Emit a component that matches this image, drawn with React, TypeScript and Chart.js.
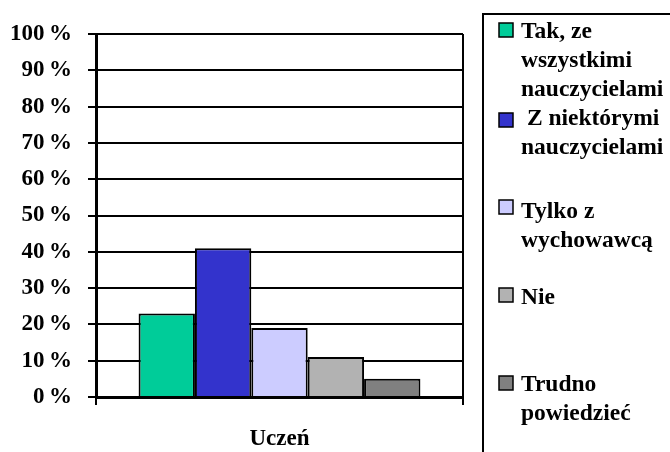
import React, { useEffect, useRef } from "react";
import { Chart, registerables } from "chart.js";

Chart.register(...registerables);

const categories = ["Uczeń"];
const seriesLabels = [
  "Tak, ze wszystkimi nauczycielami",
  "Z niektórymi nauczycielami",
  "Tylko z wychowawcą",
  "Nie",
  "Trudno powiedzieć",
];
const legendLines = [
  ["Tak, ze", "wszystkimi", "nauczycielami"],
  [" Z niektórymi", "nauczycielami"],
  ["Tylko z", "wychowawcą"],
  ["Nie"],
  ["Trudno", "powiedzieć"],
];
const values = [23, 41, 19, 11, 5];
const colors = ["#00CC99", "#3333CC", "#CCCCFF", "#B2B2B2", "#808080"];
const yMin = 0;
const yMax = 100;
const yStep = 10;

const FONT = "'Liberation Serif', 'Times New Roman', serif";

const legendPlugin = {
  id: "sideLegend",
  afterDraw(chart: any) {
    const ctx = chart.ctx;
    ctx.save();
    ctx.strokeStyle = "#000";
    ctx.lineWidth = 2;
    ctx.strokeRect(483, 14, 400, 600);
    const firstLineY = [32, 119, 212, 298, 385];
    const squareY = [30, 120, 207, 295, 383];
    const lineGap = 29;
    ctx.font = `bold 23.5px ${FONT}`;
    ctx.textBaseline = "middle";
    ctx.textAlign = "left";
    legendLines.forEach((lines, i) => {
      const sy = squareY[i];
      ctx.fillStyle = colors[i];
      ctx.fillRect(499, sy - 7, 14, 14);
      ctx.lineWidth = 1.5;
      ctx.strokeStyle = "#000";
      ctx.strokeRect(499, sy - 7, 14, 14);
      ctx.fillStyle = "#000";
      lines.forEach((t, j) => {
        ctx.fillText(t, 521, firstLineY[i] + j * lineGap);
      });
    });
    ctx.restore();
  },
};

export default function App() {
  const ref = useRef<HTMLCanvasElement>(null);
  useEffect(() => {
    if (!ref.current) return;
    const chart = new Chart(ref.current, {
      type: "bar",
      data: {
        labels: categories,
        datasets: seriesLabels.map((label, i) => ({
          label,
          data: [values[i]],
          backgroundColor: colors[i],
          borderColor: "#000",
          borderWidth: 2,
          barPercentage: 1,
          categoryPercentage: 0.768,
        })),
      },
      options: {
        responsive: false,
        animation: false,
        layout: { padding: { top: 34, right: 207, bottom: 0, left: 0 } },
        plugins: {
          legend: { display: false },
          tooltip: { enabled: false },
        },
        scales: {
          x: {
            grid: {
              offset: true,
              color: "#000",
              lineWidth: 2,
              tickLength: 8,
              drawOnChartArea: true,
            },
            border: { color: "#000", width: 3 },
            ticks: {
              color: "#000",
              font: { family: FONT, size: 23, weight: "bold" },
              padding: 20,
            },
            afterFit: (s: any) => {
              s.height = 55;
            },
          },
          y: {
            min: yMin,
            max: yMax,
            ticks: {
              stepSize: yStep,
              color: "#000",
              font: { family: FONT, size: 23, weight: "bold" },
              padding: 16,
              callback: (v: any) => `${v}\u2009%`,
            },
            grid: { color: "#000", lineWidth: 2, tickLength: 8 },
            border: { color: "#000", width: 3 },
            afterFit: (s: any) => {
              s.width = 96;
            },
          },
        },
      },
      plugins: [legendPlugin],
    });
    return () => chart.destroy();
  }, []);
  return (
    <div style={{ position: "fixed", left: 0, top: 0, width: 670, height: 452, background: "#fff" }}>
      <canvas ref={ref} width={670} height={452} style={{ display: "block" }} />
    </div>
  );
}
